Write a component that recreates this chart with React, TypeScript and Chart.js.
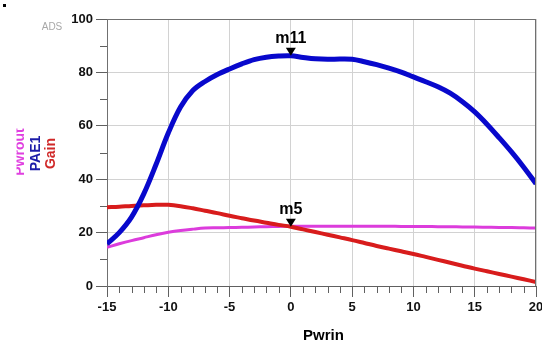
import React, { useEffect, useRef } from "react";
import { Chart, registerables } from "chart.js";
Chart.register(...registerables);

const pwrin = [-15,-14,-13,-12,-11,-10,-9,-8,-7,-6,-5,-4,-3,-2,-1,0,1,2,3,4,5,6,7,8,9,10,11,12,13,14,15,16,17,18,19,20];
const pae1 = [15.8,20.0,25.8,34.5,45.5,57.3,67.0,73.2,76.6,79.2,81.3,83.2,84.8,85.7,86.1,86.2,85.6,85.1,84.9,85.0,84.9,84.0,82.9,81.6,80.1,78.3,76.5,74.6,72.2,69.0,65.2,60.6,55.5,50.2,44.5,38.3];
const gain = [29.5,29.7,30.0,30.2,30.4,30.4,29.9,29.1,28.2,27.3,26.3,25.4,24.5,23.7,22.9,22.2,21.2,20.2,19.2,18.2,17.2,16.1,15.0,14.0,13.0,12.0,10.9,9.8,8.7,7.6,6.5,5.5,4.5,3.5,2.5,1.5];
const pwrout = [14.5,15.8,17.0,18.1,19.2,20.1,20.8,21.3,21.7,21.8,21.9,22.0,22.1,22.2,22.3,22.4,22.4,22.4,22.4,22.4,22.4,22.4,22.4,22.4,22.3,22.3,22.3,22.2,22.2,22.1,22.1,22.0,21.9,21.9,21.8,21.7];
const xTicks = [-15,-10,-5,0,5,10,15,20];
const yTicks = [0,20,40,60,80,100];
const markers = [
  { name: "m11", x: 0, series: "pae1" },
  { name: "m5", x: 0, series: "gain" },
];
const seriesNames = ["Pwrout", "PAE1", "Gain"];

const FONT = "'Liberation Sans', Arial, sans-serif";

export default function App() {
  const ref = useRef<HTMLCanvasElement>(null);
  useEffect(() => {
    const canvas = ref.current!;
    const seriesMap: Record<string, number[]> = { pae1, gain, pwrout };
    const overlay = {
      id: "overlay",
      afterDraw(chart: any) {
        const ctx = chart.ctx;
        const xs = chart.scales.x;
        const ys = chart.scales.y;
        const ca = chart.chartArea;
        ctx.save();
        ctx.strokeStyle = "#707070";
        ctx.lineWidth = 1;
        ctx.beginPath();
        ctx.moveTo(ca.left, Math.round(ca.top) + 0.5);
        ctx.lineTo(ca.right, Math.round(ca.top) + 0.5);
        ctx.moveTo(Math.round(ca.right) - 0.5, ca.top);
        ctx.lineTo(Math.round(ca.right) - 0.5, ca.bottom);
        ctx.stroke();
        ctx.strokeStyle = "#606060";
        ctx.beginPath();
        for (let v = -15; v <= 20; v++) {
          if (v % 5 === 0) continue;
          const px = Math.round(xs.getPixelForValue(v)) + 0.5;
          ctx.moveTo(px, ca.bottom);
          ctx.lineTo(px, ca.bottom + 7);
        }
        for (let v = 10; v < 100; v += 20) {
          const py = Math.round(ys.getPixelForValue(v)) + 0.5;
          ctx.moveTo(ca.left - 7, py);
          ctx.lineTo(ca.left, py);
        }
        ctx.stroke();
        ctx.fillStyle = "#000";
        ctx.textAlign = "center";
        ctx.textBaseline = "alphabetic";
        ctx.font = `bold 16px ${FONT}`;
        for (const m of markers) {
          const idx = pwrin.indexOf(m.x);
          const val = seriesMap[m.series][idx];
          const px = xs.getPixelForValue(m.x);
          const py = ys.getPixelForValue(val);
          ctx.beginPath();
          ctx.moveTo(px, py);
          ctx.lineTo(px - 5, py - 8);
          ctx.lineTo(px + 5, py - 8);
          ctx.closePath();
          ctx.fill();
          ctx.fillText(m.name, px, py - 13);
        }
        ctx.font = `bold 15px ${FONT}`;
        ctx.textBaseline = "middle";
        ctx.fillText("Pwrin", (ca.left + ca.right) / 2 + 2, 336);
        ctx.font = `10px ${FONT}`;
        ctx.fillStyle = "#a8a8a8";
        ctx.fillText("ADS", 52, 27);
        ctx.fillStyle = "#000";
        ctx.fillRect(3, 4, 3, 3);
        const leg = [
          { t: seriesNames[0], c: "#E040E0", x: 24, y: 152, clip: 16.5 },
          { t: seriesNames[1], c: "#1C1CA8", x: 40, y: 153.5, clip: 0 },
          { t: seriesNames[2], c: "#D02828", x: 55, y: 153.5, clip: 0 },
        ];
        ctx.font = `bold 14px ${FONT}`;
        ctx.textBaseline = "alphabetic";
        for (const l of leg) {
          ctx.save();
          if (l.clip) {
            ctx.beginPath();
            ctx.rect(l.clip, 0, 200, 342);
            ctx.clip();
          }
          ctx.translate(l.x, l.y);
          ctx.rotate(-Math.PI / 2);
          ctx.fillStyle = l.c;
          ctx.fillText(l.t, 0, 0);
          ctx.restore();
        }
        ctx.restore();
      },
    };
    const chart = new Chart(canvas, {
      type: "line",
      data: {
        labels: pwrin,
        datasets: [
          { label: "PAE1", data: pwrin.map((x, i) => ({ x, y: pae1[i] })), borderColor: "#0808CC", borderWidth: 5, pointRadius: 0, tension: 0.35, order: 0 },
          { label: "Gain", data: pwrin.map((x, i) => ({ x, y: gain[i] })), borderColor: "#D81C1C", borderWidth: 4, pointRadius: 0, tension: 0.35, order: 1 },
          { label: "Pwrout", data: pwrin.map((x, i) => ({ x, y: pwrout[i] })), borderColor: "#DC3CDC", borderWidth: 3, pointRadius: 0, tension: 0.35, order: 2 },
        ],
      },
      options: {
        animation: false,
        responsive: false,
        maintainAspectRatio: false,
        layout: { padding: { top: 19, right: 6, left: 0, bottom: 0 } },
        plugins: { legend: { display: false }, tooltip: { enabled: false } },
        scales: {
          x: {
            type: "linear",
            min: -15,
            max: 20,
            afterBuildTicks: (s: any) => { s.ticks = xTicks.map((v) => ({ value: v })); },
            afterFit: (s: any) => { s.height = 56; s.paddingRight = 0; s.paddingLeft = 0; },
            ticks: { color: "#111", font: { family: FONT, size: 13, weight: "bold" }, padding: 3, maxRotation: 0, autoSkip: false },
            grid: { color: "#d2d2d2", tickColor: "#606060", tickLength: 11, lineWidth: 1 },
            border: { color: "#606060", width: 1 },
          },
          y: {
            min: 0,
            max: 100,
            afterBuildTicks: (s: any) => { s.ticks = yTicks.map((v) => ({ value: v })); },
            afterFit: (s: any) => { s.width = 107; s.paddingTop = 0; s.paddingBottom = 0; },
            ticks: { color: "#111", font: { family: FONT, size: 13, weight: "bold" }, padding: 3, autoSkip: false },
            grid: { color: "#d2d2d2", tickColor: "#606060", tickLength: 11, lineWidth: 1 },
            border: { color: "#707070", width: 1 },
          },
        },
      },
      plugins: [overlay],
    } as any);
    return () => chart.destroy();
  }, []);
  return (
    <div style={{ position: "fixed", left: 0, top: 0, width: 542, height: 342, background: "#fff" }}>
      <canvas ref={ref} width={542} height={342} style={{ display: "block" }} />
    </div>
  );
}
